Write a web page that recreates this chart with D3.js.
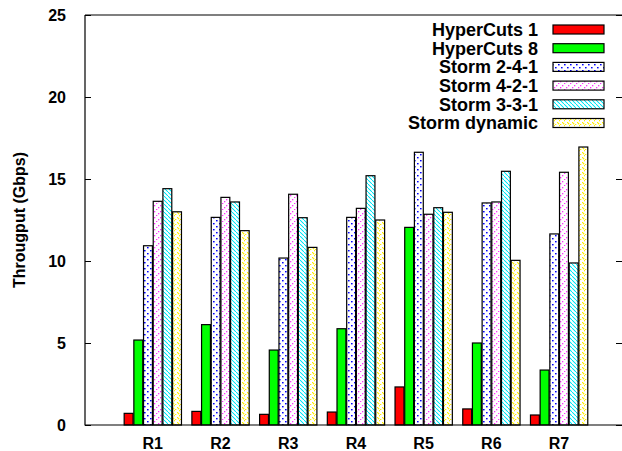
<!DOCTYPE html>
<html>
<head>
<meta charset="utf-8">
<script src="https://cdn.jsdelivr.net/npm/d3@7"></script>
<style>
html,body{margin:0;padding:0;background:#fff;}
svg{display:block;font-family:"Liberation Sans",Arial,Helvetica,sans-serif;font-weight:bold;}
</style>
</head>
<body>
<svg id="chart" width="622" height="451"></svg>
<script>
const categories = ["R1","R2","R3","R4","R5","R6","R7"];
const seriesNames = ["HyperCuts 1","HyperCuts 8","Storm 2-4-1","Storm 4-2-1","Storm 3-3-1","Storm dynamic"];
const hyperCuts1   = [0.71, 0.83, 0.65, 0.79, 2.32, 0.98, 0.61];
const hyperCuts8   = [5.18, 6.12, 4.57, 5.87, 12.05, 5.00, 3.35];
const storm241     = [10.93, 12.66, 10.18, 12.66, 16.63, 13.54, 11.65];
const storm421     = [13.64, 13.88, 14.07, 13.21, 12.85, 13.60, 15.41];
const storm331     = [14.41, 13.60, 12.64, 15.20, 13.25, 15.47, 9.88];
const stormDynamic = [13.00, 11.85, 10.83, 12.50, 12.97, 10.04, 16.95];
const yTicks = [0, 5, 10, 15, 20, 25];

const seriesValues = [hyperCuts1, hyperCuts8, storm241, storm421, storm331, stormDynamic];

const svg = d3.select("#chart");
const margin = {left: 85, top: 15, right: 622, bottom: 425};

const x = d3.scaleLinear().domain([-1, 6.93]).range([margin.left, margin.right]);
const y = d3.scaleLinear().domain([0, 25]).range([margin.bottom, margin.top]);
const boxW = 0.143;

// patterns
const defs = svg.append("defs");
function pat(id, w, h, draw) {
  const p = defs.append("pattern").attr("id", id).attr("patternUnits", "userSpaceOnUse")
    .attr("width", w).attr("height", h);
  p.append("rect").attr("width", w).attr("height", h).attr("fill", "#fff");
  draw(p);
}
function dots(p, pts, col, w, h) {
  pts.forEach(([a, b]) => p.append("rect").attr("x", a).attr("y", b).attr("width", w).attr("height", h).attr("fill", col));
}
pat("p241", 6, 6, p => dots(p, [[0, 4], [3, 1]], "#0000ff", 1.6, 1.4));
pat("p421", 6, 6, p => dots(p, [[0, 5], [2, 3], [4, 1]], "#ff30ff", 1.3, 1.3));
pat("p331", 4, 4, p => dots(p, [[0, 0], [1, 1], [2, 2], [3, 3]], "#00e8f8", 1.2, 1.2));
pat("pdyn", 5, 5, p => dots(p, [[0, 4], [2, 2], [4, 0], [3, 3]], "#ffee00", 1.3, 1.3));
const fills = ["#ff0000", "#00ff00", "url(#p241)", "url(#p421)", "url(#p331)", "url(#pdyn)"];

// bars
seriesValues.forEach((vals, j) => {
  svg.append("g").selectAll("rect").data(vals).join("rect")
    .attr("x", (d, i) => x(i + (j - 3) * boxW) + 0.5)
    .attr("y", d => y(d))
    .attr("width", x(boxW) - x(0) - 0.8)
    .attr("height", d => y(0) - y(d))
    .attr("fill", fills[j])
    .attr("stroke", "#000")
    .attr("stroke-width", 1.2);
});

// frame
svg.append("path")
  .attr("d", `M${margin.left},${margin.top} H${margin.right} M${margin.left},${margin.top} V${margin.bottom} H${margin.right}`)
  .attr("stroke", "#000").attr("stroke-width", 1.2).attr("fill", "none");

// y ticks inward on both sides
const yAxisL = d3.axisRight(y).tickValues(yTicks).tickSize(6).tickFormat("");
svg.append("g").attr("transform", `translate(${margin.left},0)`).call(yAxisL)
  .call(g => g.select(".domain").remove())
  .call(g => g.selectAll("line").attr("stroke", "#000"));
const yAxisR = d3.axisLeft(y).tickValues(yTicks).tickSize(6).tickFormat("");
svg.append("g").attr("transform", `translate(${margin.right},0)`).call(yAxisR)
  .call(g => g.select(".domain").remove())
  .call(g => g.selectAll("line").attr("stroke", "#000"));

// y tick labels
svg.append("g").selectAll("text").data(yTicks).join("text")
  .attr("x", 66).attr("y", d => y(d) + 5.5)
  .attr("text-anchor", "end").attr("font-size", 16).text(d => d);

// x labels
svg.append("g").selectAll("text").data(categories).join("text")
  .attr("x", (d, i) => x(i)).attr("y", 449)
  .attr("text-anchor", "middle").attr("font-size", 16).text(d => d);

// y label
svg.append("text")
  .attr("transform", `translate(25,${(margin.top + margin.bottom) / 2}) rotate(-90)`)
  .attr("text-anchor", "middle").attr("font-size", 16).text("Througput (Gbps)");

// legend
const lg = svg.append("g");
seriesNames.forEach((name, j) => {
  const cy = 29.5 + j * 18.7;
  lg.append("text").attr("x", 538).attr("y", cy + 6.3).attr("text-anchor", "end")
    .attr("font-size", 18).text(name);
  lg.append("rect").attr("x", 553).attr("y", cy - 4.5).attr("width", 51).attr("height", 9)
    .attr("fill", fills[j]).attr("stroke", "#000").attr("stroke-width", 1.2);
});
</script>
</body>
</html>
